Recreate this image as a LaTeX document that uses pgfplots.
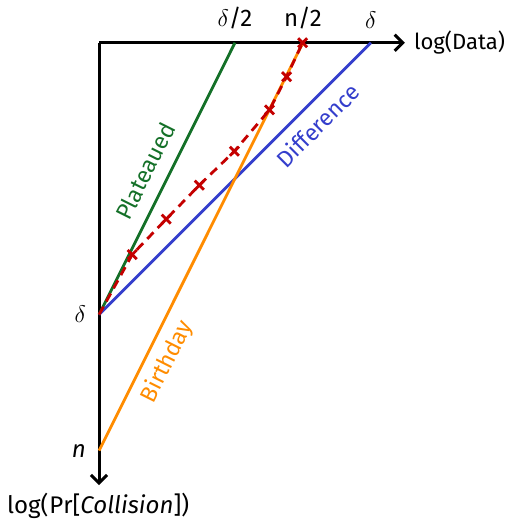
\documentclass[border=0pt]{standalone}
\usepackage{fontspec}
\setmainfont{Fira Sans}
\usepackage{pgfplots}
\pgfplotsset{compat=1.18}
\usetikzlibrary{arrows.meta}
\definecolor{pgreen}{RGB}{20,112,40}
\definecolor{pblue}{RGB}{52,62,204}
\definecolor{porange}{RGB}{255,140,0}
\definecolor{pred}{RGB}{196,0,0}
\begin{document}
\begin{tikzpicture}
\begin{axis}[
  scale only axis,
  width=152.4pt, height=220.5pt,
  xmin=0, xmax=1.125, ymin=-1.627, ymax=0,
  axis x line*=top, axis y line*=left,
  x axis line style={line width=1.5pt,-{Straight Barb[length=4pt,width=8pt]}},
  y axis line style={line width=1.5pt,{Straight Barb[length=4pt,width=8pt]}-},
  xtick={0.5,0.75,1}, xticklabels={$\delta$/2,n/2,$\delta$},
  ytick={-1,-1.5}, yticklabels={$\delta$,\textit{n}},
  major tick length=0pt,
  tick label style={font=\fontsize{12}{14}\selectfont},
  xticklabel style={yshift=3.5pt},
  yticklabel style={xshift=-3pt},
  clip=false,
  xlabel={$\log$(Data)}, ylabel={$\log$(\kern0.5pt$\Pr$[\textit{Collision}])},
  xlabel style={at={(axis description cs:1,1)}, anchor=west, font=\fontsize{11}{13}\selectfont, inner xsep=1pt, xshift=3.4pt},
  ylabel style={at={(axis description cs:0,0)}, anchor=north, rotate=-90, font=\fontsize{12}{14}\selectfont, inner xsep=3.5pt, inner ysep=1pt, xshift=-0.5pt, yshift=-3pt},
]
\addplot[pgreen, line width=1.4pt] coordinates {(0,-1) (0.5,0)};
\addplot[pblue, line width=1.4pt] coordinates {(0,-1) (1,0)};
\addplot[porange, line width=1.4pt] coordinates {(0,-1.5) (0.75,0)};
\addplot[pred, line width=1.4pt, dash pattern=on 4.5pt off 3pt, mark=x, mark size=3.2pt,
  mark options={solid, line width=1.4pt}, mark indices={2,3,4,5,6,7,8}] coordinates {
  (0,-1) (0.122,-0.779) (0.247,-0.649) (0.369,-0.524) (0.498,-0.399) (0.627,-0.247) (0.690,-0.125) (0.749,0)};
\node[pgreen, rotate=63.4, font=\fontsize{11.5}{13}\selectfont] at (axis cs:0.170,-0.472) {Plateaued};
\node[pblue, rotate=45, font=\fontsize{11.5}{13}\selectfont] at (axis cs:0.804,-0.303) {Difference};
\node[porange, rotate=63.4, font=\fontsize{11.5}{13}\selectfont] at (axis cs:0.251,-1.173) {Birthday};
\end{axis}
\end{tikzpicture}
\end{document}
